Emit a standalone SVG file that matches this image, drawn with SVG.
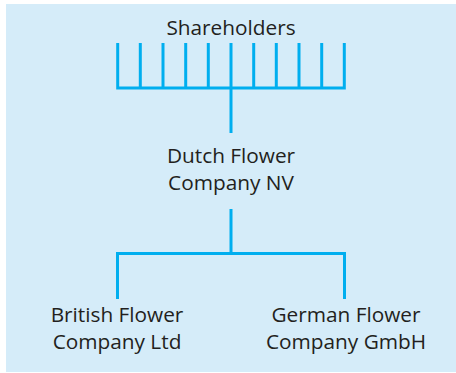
<svg xmlns="http://www.w3.org/2000/svg" width="456" height="373" viewBox="0 0 456 373">
<style>
.lbl{font-family:"Open Sans","Liberation Sans",sans-serif;font-size:20.8px;fill:#231f20;text-anchor:middle}
.ln{stroke:#00aeef;stroke-width:3;fill:none}
</style>
<rect x="6" y="4" width="450" height="368" fill="#d5ecf9"/>
<g id="connectors">
<path class="ln" d="M117.7,43V88.5M140.3,43V88.5M163,43V88.5M185.7,43V88.5M208.3,43V88.5M231,43V133M253.7,43V88.5M276.3,43V88.5M299,43V88.5M321.7,43V88.5M344.3,43V88.5M116.2,88H345.8"/>
<path class="ln" d="M231,209V253.5M117.5,299V253.5H344.5V299"/>
</g>
<g id="shareholders"><text class="lbl" x="231" y="35">Shareholders</text></g>
<g id="dutch"><text class="lbl" x="231" y="163">Dutch Flower</text><text class="lbl" x="231" y="190">Company NV</text></g>
<g id="british"><text class="lbl" x="117" y="322">British Flower</text><text class="lbl" x="117" y="349">Company Ltd</text></g>
<g id="german"><text class="lbl" x="346" y="322">German Flower</text><text class="lbl" x="346" y="349">Company GmbH</text></g>
</svg>
